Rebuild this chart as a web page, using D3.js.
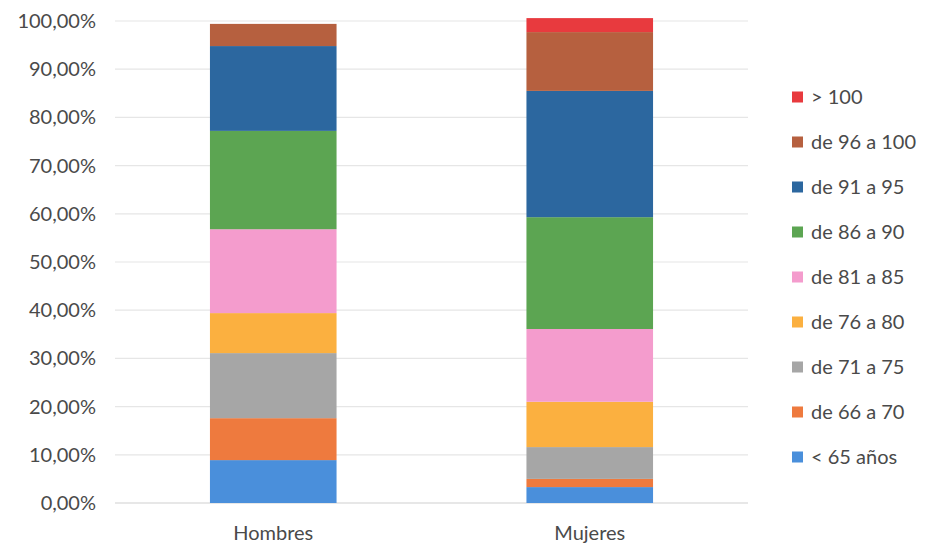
<!DOCTYPE html>
<html><head><meta charset="utf-8">
<script src="https://cdn.jsdelivr.net/npm/d3@7"></script>
<style>body{margin:0;background:#fff;} text{font-family:Lato,"Open Sans",sans-serif;}</style>
</head><body><svg id="c" width="928" height="551"></svg>
<script>
const categories = ["Hombres", "Mujeres"];
const seriesNames = ["< 65 años","de 66 a 70","de 71 a 75","de 76 a 80","de 81 a 85","de 86 a 90","de 91 a 95","de 96 a 100","> 100"];
const hombres = [8.9, 8.7, 13.5, 8.3, 17.4, 20.4, 17.6, 4.6, 0];
const mujeres = [3.3, 1.7, 6.6, 9.4, 15.1, 23.2, 26.2, 12.2, 2.9];
const colors = ["#4a8fdb","#ee7a3e","#a6a6a6","#fbb040","#f49ccd","#5ca552","#2c679f","#b6603f","#e83a3e"];
const yTicks = [0,10,20,30,40,50,60,70,80,90,100];

const svg = d3.select("#c");
const x = d3.scaleBand().domain(categories).range([115, 748]).paddingInner(0.6).paddingOuter(0.3);
const y = d3.scaleLinear().domain([0, 100]).range([503, 21]);
const txt = "#4a4a4a";

// gridlines
svg.append("g").selectAll("line").data(yTicks).join("line")
  .attr("x1", 115).attr("x2", 748)
  .attr("y1", d => y(d)).attr("y2", d => y(d))
  .attr("stroke", d => d === 0 ? "#d0d0d0" : "#e6e6e6").attr("stroke-width", 1.2);

// y labels
svg.append("g").selectAll("text").data(yTicks).join("text")
  .attr("x", 96).attr("y", d => y(d)).attr("dy", "0.35em")
  .attr("text-anchor", "end").attr("font-size", 20).attr("fill", txt)
  .text(d => d.toFixed(2).replace(".", ",") + "%");

// stacked bars
const rows = categories.map((c, i) => {
  const vals = i === 0 ? hombres : mujeres;
  const o = {cat: c};
  seriesNames.forEach((s, j) => o[s] = vals[j]);
  return o;
});
const stack = d3.stack().keys(seriesNames)(rows);
svg.append("g").selectAll("g").data(stack).join("g")
  .attr("fill", (d, i) => colors[i])
  .selectAll("rect").data(d => d).join("rect")
  .attr("x", d => x(d.data.cat)).attr("width", x.bandwidth())
  .attr("y", d => y(d[1])).attr("height", d => Math.max(0, y(d[0]) - y(d[1])));

// x labels
svg.append("g").selectAll("text").data(categories).join("text")
  .attr("x", d => x(d) + x.bandwidth() / 2).attr("y", 533).attr("dy", "0.35em")
  .attr("text-anchor", "middle").attr("font-size", 20).attr("fill", txt)
  .text(d => d);

// legend
const leg = svg.append("g").selectAll("g").data(seriesNames.slice().reverse()).join("g")
  .attr("transform", (d, i) => `translate(792, ${97 + i * 45})`);
leg.append("rect").attr("x", 0).attr("y", -5.5).attr("width", 11).attr("height", 11)
  .attr("fill", d => colors[seriesNames.indexOf(d)]);
leg.append("text").attr("x", 19).attr("dy", "0.35em").attr("font-size", 20).attr("fill", txt)
  .text(d => d);
</script></body></html>
